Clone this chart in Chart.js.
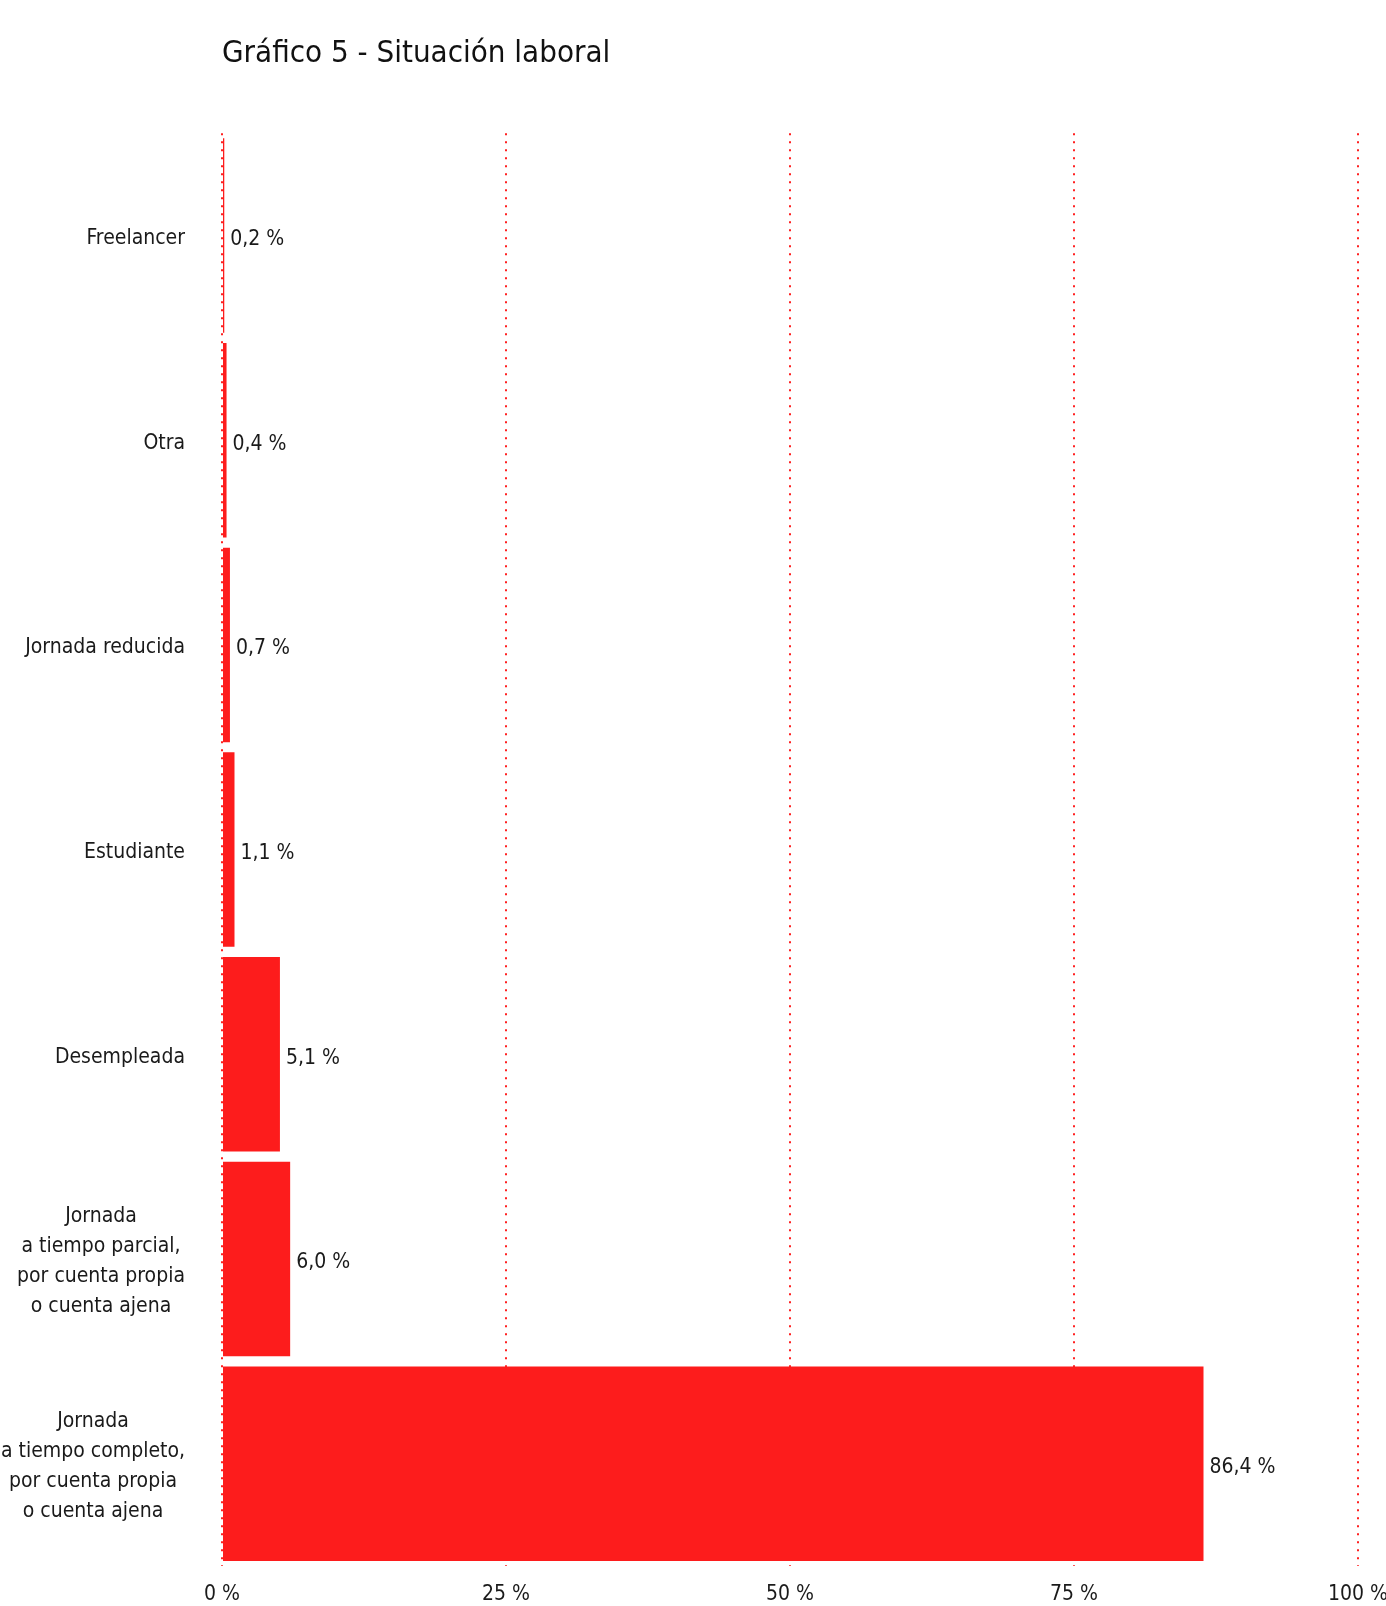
<!DOCTYPE html>
<html>
<head>
<meta charset="utf-8">
<script src="https://cdn.jsdelivr.net/npm/chart.js@4"></script>
<style>
  body { margin: 0; background: #fff; }
</style>
</head>
<body>
<canvas id="myChart" width="1386" height="1606"></canvas>
<script>
var FONT = "'Liberation Sans Narrow', 'DejaVu Sans Condensed', sans-serif";

// datos del gráfico
var categorias = [
    ['Freelancer'],
    ['Otra'],
    ['Jornada reducida'],
    ['Estudiante'],
    ['Desempleada'],
    ['Jornada', 'a tiempo parcial,', 'por cuenta propia', 'o cuenta ajena'],
    ['Jornada', 'a tiempo completo,', 'por cuenta propia', 'o cuenta ajena']
];
var porcentajes = [0.2, 0.4, 0.7, 1.1, 5.1, 6.0, 86.4];
var ticksX = [0, 25, 50, 75, 100];

function fmt(v) {
    return v.toFixed(1).replace('.', ',') + ' %';
}

// etiquetas del eje Y (centradas entre sí, alineadas a la derecha)
var etiquetasY = {
    id: 'etiquetasY',
    afterDraw: function (chart) {
        var ctx = chart.ctx;
        var y = chart.scales.y;
        var right = chart.chartArea.left - 37;
        ctx.save();
        ctx.font = '21px ' + FONT;
        ctx.fillStyle = '#1a1a1a';
        ctx.textAlign = 'center';
        ctx.textBaseline = 'middle';
        categorias.forEach(function (lines, i) {
            var widest = 0;
            lines.forEach(function (l) { widest = Math.max(widest, ctx.measureText(l).width); });
            var cy = y.getPixelForValue(i) + 3;
            var lh = 30;
            var top = cy - (lines.length - 1) * lh / 2;
            lines.forEach(function (l, k) {
                ctx.fillText(l, right - widest / 2, top + k * lh);
            });
        });
        ctx.restore();
    }
};

// valores al final de cada barra
var valores = {
    id: 'valores',
    afterDatasetsDraw: function (chart) {
        var ctx = chart.ctx;
        var meta = chart.getDatasetMeta(0);
        ctx.save();
        ctx.font = '21px ' + FONT;
        ctx.fillStyle = '#1a1a1a';
        ctx.textAlign = 'left';
        ctx.textBaseline = 'middle';
        meta.data.forEach(function (bar, i) {
            ctx.fillText(fmt(porcentajes[i]), bar.x + 6, bar.y + 4);
        });
        ctx.restore();
    }
};

var ctx = document.getElementById('myChart').getContext('2d');
var myChart = new Chart(ctx, {
    type: 'bar',
    data: {
        labels: categorias,
        datasets: [{
            data: porcentajes,
            backgroundColor: '#fd1c1c',
            borderWidth: 0,
            barPercentage: 0.95,
            categoryPercentage: 1
        }]
    },
    options: {
        indexAxis: 'y',
        responsive: false,
        animation: false,
        layout: {
            padding: { left: 222, right: 28, top: 0, bottom: 0 }
        },
        scales: {
            x: {
                min: 0,
                max: 100,
                afterBuildTicks: function (scale) {
                    scale.ticks = ticksX.map(function (v) { return { value: v }; });
                },
                afterFit: function (scale) {
                    scale.paddingLeft = 0;
                    scale.paddingRight = 0;
                    scale.height = 40;
                },
                grid: {
                    color: '#ff2020',
                    lineWidth: 2,
                    drawTicks: false
                },
                border: { display: false, dash: [2, 6] },
                ticks: {
                    padding: 16,
                    color: '#1a1a1a',
                    font: { family: FONT, size: 21 },
                    callback: function (v) { return v + ' %'; }
                }
            },
            y: {
                display: false
            }
        },
        plugins: {
            legend: { display: false },
            tooltip: { enabled: false },
            title: {
                display: true,
                text: 'Gráfico 5 - Situación laboral',
                align: 'start',
                color: '#111',
                font: { family: FONT, size: 31, weight: 'normal' },
                padding: { top: 35, bottom: 61 }
            }
        }
    },
    plugins: [etiquetasY, valores]
});
</script>
</body>
</html>
